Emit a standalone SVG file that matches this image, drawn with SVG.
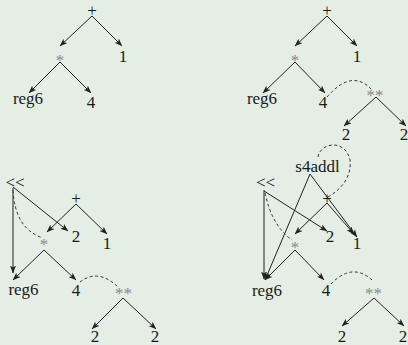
<svg xmlns="http://www.w3.org/2000/svg" width="408" height="345" viewBox="0 0 408 345">
<style>
text{font-family:'Liberation Serif','Times New Roman',serif;font-size:17px;fill:#1a1a1a;text-anchor:middle}
text.g{fill:#8a8a8a}
.e{stroke:#222;stroke-width:1;fill:none;marker-end:url(#ah)}
.d{stroke:#333;stroke-width:1;fill:none;stroke-dasharray:3,2.5}
</style>
<defs>
<marker id="ah" viewBox="0 0 8 6" refX="7.5" refY="3" markerWidth="8" markerHeight="6" markerUnits="userSpaceOnUse" orient="auto">
<path d="M0,0 L8,3 L0,6 L2,3 z" fill="#222"/>
</marker>
</defs>
<rect width="408" height="345" fill="#e4eee4"/>

<g id="connectors">
<line class="e" x1="92" y1="16" x2="60" y2="46"/>
<line class="e" x1="92" y1="16" x2="122" y2="46"/>
<line class="e" x1="60" y1="62" x2="29" y2="93"/>
<line class="e" x1="60" y1="62" x2="91" y2="93"/>
<line class="e" x1="327" y1="16" x2="295" y2="46"/>
<line class="e" x1="327" y1="16" x2="357" y2="46"/>
<line class="e" x1="295" y1="62" x2="263" y2="93"/>
<line class="e" x1="295" y1="62" x2="325" y2="93"/>
<path class="d" d="M327,97 Q352,68 372,90"/>
<line class="e" x1="376" y1="97" x2="344" y2="126"/>
<line class="e" x1="376" y1="97" x2="406" y2="126"/>
<line class="e" x1="13" y1="187" x2="68" y2="231"/>
<line class="e" x1="13" y1="188" x2="13" y2="273"/>
<path class="d" d="M13,190 Q15,229 43,238"/>
<line class="e" x1="76" y1="204" x2="47" y2="232"/>
<line class="e" x1="76" y1="204" x2="107" y2="234"/>
<line class="e" x1="44" y1="250" x2="13" y2="280"/>
<line class="e" x1="44" y1="250" x2="76" y2="280"/>
<path class="d" d="M80,282 Q98,268 118,287"/>
<line class="e" x1="123" y1="298" x2="92" y2="329"/>
<line class="e" x1="123" y1="298" x2="156" y2="329"/>
<path class="d" d="M318,157 C320,143 345,138 350,160 C352,178 340,190 328,197"/>
<line class="e" x1="310" y1="174" x2="265" y2="280"/>
<line class="e" x1="310" y1="174" x2="357" y2="237"/>
<line class="e" x1="264" y1="190" x2="264" y2="279"/>
<line class="e" x1="264" y1="191" x2="327" y2="231"/>
<path class="d" d="M265,193 Q272,226 292,240"/>
<line class="e" x1="327" y1="203" x2="295" y2="234"/>
<line class="e" x1="327" y1="203" x2="354" y2="234"/>
<line class="e" x1="295" y1="250" x2="265" y2="280"/>
<line class="e" x1="295" y1="250" x2="324" y2="280"/>
<path class="d" d="M331,284 Q352,262 372,280"/>
<line class="e" x1="374" y1="298" x2="342" y2="326"/>
<line class="e" x1="374" y1="298" x2="404" y2="326"/>
</g>

<g font-family="Liberation Serif, Times New Roman, serif">
<g id="tl-plus"><text x="92" y="16">+</text></g>
<g id="tl-one"><text x="123" y="62">1</text></g>
<g id="tl-mul"><text class="g" x="60" y="66">*</text></g>
<g id="tl-reg6"><text x="28" y="104">reg6</text></g>
<g id="tl-four"><text x="91" y="108">4</text></g>

<g id="tr-plus"><text x="327" y="16">+</text></g>
<g id="tr-one"><text x="357" y="62">1</text></g>
<g id="tr-mul"><text class="g" x="295" y="66">*</text></g>
<g id="tr-reg6"><text x="262" y="104">reg6</text></g>
<g id="tr-four"><text x="323" y="108">4</text></g>
<g id="tr-pow"><text class="g" x="375" y="101">**</text></g>
<g id="tr-two-a"><text x="346" y="140">2</text></g>
<g id="tr-two-b"><text x="404" y="140">2</text></g>

<g id="bl-shl"><text x="15" y="188">&lt;&lt;</text></g>
<g id="bl-plus"><text x="76" y="204">+</text></g>
<g id="bl-two"><text x="76" y="242">2</text></g>
<g id="bl-one"><text x="107" y="249">1</text></g>
<g id="bl-mul"><text class="g" x="44" y="250">*</text></g>
<g id="bl-reg6"><text x="23.5" y="295">reg6</text></g>
<g id="bl-four"><text x="76" y="296">4</text></g>
<g id="bl-pow"><text class="g" x="123.5" y="299">**</text></g>
<g id="bl-two-a"><text x="95" y="342">2</text></g>
<g id="bl-two-b"><text x="155" y="342">2</text></g>

<g id="br-s4addl"><text x="317.5" y="172">s4addl</text></g>
<g id="br-shl"><text x="265.5" y="188">&lt;&lt;</text></g>
<g id="br-plus"><text x="327" y="204">+</text></g>
<g id="br-two"><text x="330" y="242">2</text></g>
<g id="br-one"><text x="357" y="249">1</text></g>
<g id="br-mul"><text class="g" x="295" y="253">*</text></g>
<g id="br-reg6"><text x="267" y="296">reg6</text></g>
<g id="br-four"><text x="326" y="296">4</text></g>
<g id="br-pow"><text class="g" x="373.5" y="299">**</text></g>
<g id="br-two-a"><text x="342" y="342">2</text></g>
<g id="br-two-b"><text x="403" y="342">2</text></g>
</g>
</svg>
